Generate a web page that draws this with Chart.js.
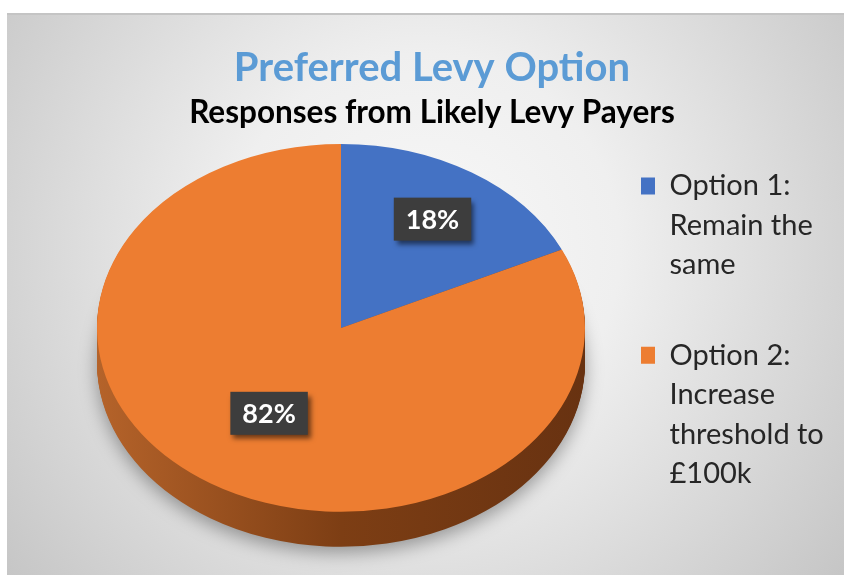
<!DOCTYPE html>
<html>
<head>
<meta charset="utf-8">
<script src="https://cdn.jsdelivr.net/npm/chart.js@4/dist/chart.umd.min.js"></script>
<style>
html, body { margin: 0; padding: 0; background: #fff; }
</style>
</head>
<body>
<canvas id="chart" width="844" height="577"></canvas>
<script>
// data
var categories = [
	["Option 1:", "Remain the", "same"],
	["Option 2:", "Increase", "threshold to", "£100k"]
];
var values = [18, 82];
var sliceColors = ["#4472C4", "#ED7D31"];

var tilt = 0.754;      // vertical squash of the pie
var depth = 35;        // thickness of the 3d side
var labelRadius = [0.70, 0.55];

function sideFill(ctx, i, left, right) {
	var g = ctx.createLinearGradient(left, 0, right, 0);
	if (i == 0) {
		g.addColorStop(0, "#36609f");
		g.addColorStop(1, "#213e70");
	} else {
		g.addColorStop(0, "#b5632a");
		g.addColorStop(0.5, "#7d3e14");
		g.addColorStop(1, "#683211");
	}
	return g;
}

var background = {
	id: "background",
	beforeDraw: function(chart) {
		var ctx = chart.ctx;
		ctx.save();
		ctx.fillStyle = "#fff";
		ctx.fillRect(0, 0, chart.width, chart.height);
		var g = ctx.createRadialGradient(424, 250, 0, 424, 250, 560);
		g.addColorStop(0, "#f8f8f8");
		g.addColorStop(0.35, "#efefef");
		g.addColorStop(1, "#c2c2c2");
		ctx.fillStyle = g;
		ctx.fillRect(7, 13, chart.width - 7, 562);
		ctx.fillStyle = "#c4c4c4";
		ctx.fillRect(7, 13, chart.width - 7, 2);
		ctx.restore();
	},
	// let the legend text run past its narrow box instead of being clipped
	afterLayout: function(chart) {
		chart.legend.right = chart.width;
		chart.legend.width = chart.width - chart.legend.left;
	}
};

var pie3d = {
	id: "pie3d",
	beforeDatasetsDraw: function(chart) {
		var ctx = chart.ctx;
		var meta = chart.getDatasetMeta(0);
		var cx = meta.data[0].x, cy = meta.data[0].y, r = meta.data[0].outerRadius;
		for (var d = depth; d >= 1; d--) {
			ctx.save();
			if (d == depth) {
				ctx.shadowColor = "rgba(0,0,0,0.35)";
				ctx.shadowBlur = 18;
				ctx.shadowOffsetY = 6;
			}
			ctx.translate(0, d);
			ctx.translate(cx, cy);
			ctx.scale(1, tilt);
			ctx.translate(-cx, -cy);
			meta.data.forEach(function(arc, i) {
				var saved = arc.options;
				arc.options = Object.assign({}, saved, {
					backgroundColor: sideFill(ctx, i, cx - r, cx + r),
					borderWidth: 0
				});
				arc.draw(ctx);
				arc.options = saved;
			});
			ctx.restore();
		}
		ctx.save();
		ctx.translate(cx, cy);
		ctx.scale(1, tilt);
		ctx.translate(-cx, -cy);
	},
	afterDatasetsDraw: function(chart) {
		var ctx = chart.ctx;
		ctx.restore();
		var meta = chart.getDatasetMeta(0);
		var total = values.reduce(function(a, b) { return a + b; }, 0);
		ctx.save();
		ctx.font = "bold 27px Lato";
		ctx.textAlign = "center";
		ctx.textBaseline = "middle";
		meta.data.forEach(function(arc, i) {
			var mid = (arc.startAngle + arc.endAngle) / 2;
			var rr = arc.outerRadius * labelRadius[i];
			var px = arc.x + Math.cos(mid) * rr;
			var py = arc.y + Math.sin(mid) * rr * tilt;
			var text = Math.round(values[i] / total * 100) + "%";
			var w = ctx.measureText(text).width + 24, h = 43;
			ctx.save();
			ctx.shadowColor = "rgba(0,0,0,0.55)";
			ctx.shadowBlur = 5;
			ctx.shadowOffsetX = 3;
			ctx.shadowOffsetY = 4;
			ctx.fillStyle = "#3d3d3d";
			ctx.fillRect(px - w / 2, py - h / 2, w, h);
			ctx.restore();
			ctx.fillStyle = "#ffffff";
			ctx.fillText(text, px, py + 1);
		});
		ctx.restore();
	}
};

new Chart(document.getElementById("chart").getContext("2d"), {
	type: "pie",
	data: {
		labels: categories,
		datasets: [
			{
				data: values,
				backgroundColor: sliceColors,
				borderWidth: 0,
				radius: 244,
				clip: false,
			},
		],
	},
	options: {
		responsive: false,
		animation: false,
		events: [],
		layout: {
			padding: { left: 91.75, right: 71.75, top: 0, bottom: 42 },
		},
		plugins: {
			tooltip: { enabled: false },
			title: {
				display: true,
				text: "Preferred Levy Option",
				color: "#5B9BD5",
				font: { family: "Lato", size: 40, weight: "bold", lineHeight: 1.2 },
				padding: { top: 44, bottom: 0 },
			},
			subtitle: {
				display: true,
				text: "Responses from Likely Levy Payers",
				color: "#000000",
				font: { family: "Lato", size: 31.5, weight: "bold", lineHeight: 0.5 },
				padding: { top: 13, bottom: 0 },
			},
			legend: {
				position: "right",
				align: "start",
				fullSize: false,
				maxWidth: 182,
				labels: {
					color: "#262626",
					font: { family: "Lato", size: 29, lineHeight: 1.362 },
					boxWidth: 14,
					boxHeight: 17,
					padding: 50.75,
				},
			},
		},
	},
	plugins: [background, pie3d],
});
</script>
</body>
</html>
